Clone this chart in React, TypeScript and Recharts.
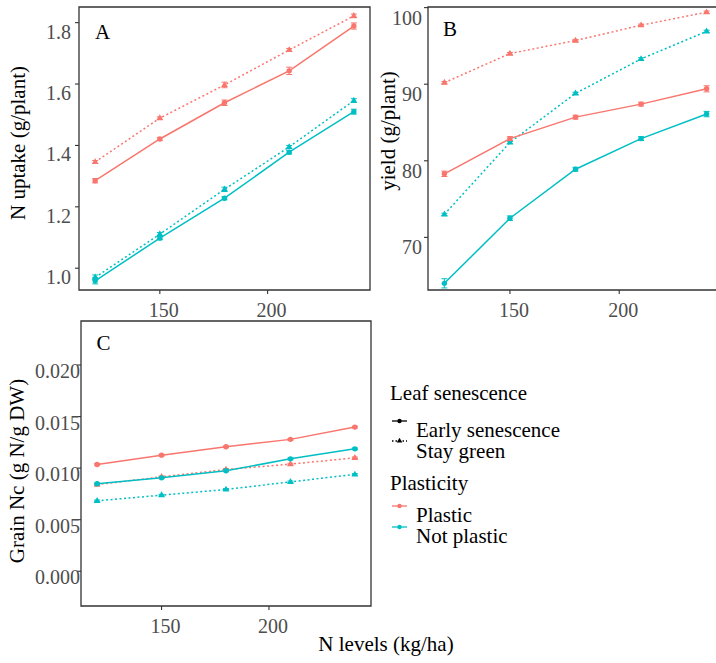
import React from 'react';
import { LineChart, Line, XAxis, YAxis, ErrorBar, ReferenceArea } from 'recharts';

const RED = '#F8766D';
const CYAN = '#00BFC4';
const FONT = "'Liberation Serif', 'DejaVu Serif', serif";
const TICK_COLOR = '#4D4D4D';
const BORDER = '#333333';

// x categories (N levels, kg/ha)
const nLevels = [120, 150, 180, 210, 240];
const xTicks = [150, 200];

// Panel A: N uptake (g/plant)
const uptakePlasticEarly = [1.285, 1.421, 1.539, 1.643, 1.789];
const uptakePlasticStay = [1.346, 1.489, 1.597, 1.711, 1.822];
const uptakeNotPlasticEarly = [0.959, 1.098, 1.228, 1.378, 1.51];
const uptakeNotPlasticStay = [0.97, 1.111, 1.257, 1.395, 1.546];
const uptakeErrPlasticEarly = [0.007, 0.005, 0.009, 0.012, 0.01];
const uptakeErrPlasticStay = [0.005, 0.004, 0.009, 0.005, 0.006];
const uptakeErrNotPlasticEarly = [0.01, 0.005, 0.005, 0.006, 0.008];
const uptakeErrNotPlasticStay = [0.008, 0.005, 0.007, 0.005, 0.006];
const uptakeTicks = [1.0, 1.2, 1.4, 1.6, 1.8];

// Panel B: yield (g/plant)
const yieldPlasticEarly = [78.3, 82.9, 85.7, 87.4, 89.4];
const yieldPlasticStay = [90.2, 94.0, 95.7, 97.7, 99.4];
const yieldNotPlasticEarly = [64.0, 72.5, 78.9, 82.9, 86.1];
const yieldNotPlasticStay = [73.0, 82.4, 88.8, 93.3, 96.9];
const yieldErrPlasticEarly = [0.35, 0.25, 0.25, 0.25, 0.4];
const yieldErrPlasticStay = [0.15, 0.15, 0.15, 0.15, 0.15];
const yieldErrNotPlasticEarly = [0.6, 0.3, 0.25, 0.25, 0.35];
const yieldErrNotPlasticStay = [0.15, 0.15, 0.15, 0.15, 0.15];
const yieldTicks = [70, 80, 90, 100];

// Panel C: Grain Nc (g N/g DW)
const ncPlasticEarly = [0.01036, 0.01126, 0.01207, 0.01279, 0.01398];
const ncPlasticStay = [0.0084, 0.00916, 0.00987, 0.01039, 0.011];
const ncNotPlasticEarly = [0.00848, 0.00906, 0.00974, 0.0109, 0.01187];
const ncNotPlasticStay = [0.00683, 0.00738, 0.00793, 0.00867, 0.00939];
const ncErr = [0.00008, 0.00008, 0.00008, 0.00008, 0.00008];
const ncTicks = [0.0, 0.005, 0.01, 0.015, 0.02];

const X_DOMAIN: [number, number] = [112.5, 247.5];

function buildRows(pe: number[], ps: number[], ne: number[], ns: number[],
  peE: number[], psE: number[], neE: number[], nsE: number[]) {
  return nLevels.map((n, i) => ({
    n,
    pe: pe[i], ps: ps[i], ne: ne[i], ns: ns[i],
    peE: peE[i], psE: psE[i], neE: neE[i], nsE: nsE[i],
  }));
}

const dataA = buildRows(uptakePlasticEarly, uptakePlasticStay, uptakeNotPlasticEarly, uptakeNotPlasticStay,
  uptakeErrPlasticEarly, uptakeErrPlasticStay, uptakeErrNotPlasticEarly, uptakeErrNotPlasticStay);
const dataB = buildRows(yieldPlasticEarly, yieldPlasticStay, yieldNotPlasticEarly, yieldNotPlasticStay,
  yieldErrPlasticEarly, yieldErrPlasticStay, yieldErrNotPlasticEarly, yieldErrNotPlasticStay);
const dataC = buildRows(ncPlasticEarly, ncPlasticStay, ncNotPlasticEarly, ncNotPlasticStay,
  ncErr, ncErr, ncErr, ncErr);

const circleDot = (color: string) => (props: any) => {
  const { cx, cy, index } = props;
  if (cx == null || cy == null) return <g key={`e${index}`} />;
  return <circle key={`c${index}`} cx={cx} cy={cy} r={2.7} fill={color} stroke="none" />;
};

const triangleDot = (color: string) => (props: any) => {
  const { cx, cy, index } = props;
  if (cx == null || cy == null) return <g key={`e${index}`} />;
  const d = `M${cx},${cy - 3.8} L${cx + 3.4},${cy + 2.1} L${cx - 3.4},${cy + 2.1} Z`;
  return <path key={`t${index}`} d={d} fill={color} stroke="none" />;
};

const makeYTick = (fmt: (v: number) => string, dx: number, dy: number) => (props: any) => {
  const { x, y, payload } = props;
  return (
    <text x={x + dx} y={y + dy} textAnchor="end" dominantBaseline="central"
      fill={TICK_COLOR} fontSize={20} fontFamily={FONT}>
      {fmt(payload.value)}
    </text>
  );
};

const makeXTick = (dx: number, dy: number) => (props: any) => {
  const { x, y, payload } = props;
  return (
    <text x={x + dx} y={y + dy} textAnchor="middle" dominantBaseline="central"
      fill={TICK_COLOR} fontSize={20} fontFamily={FONT}>
      {payload.value}
    </text>
  );
};

type PanelProps = {
  data: any[];
  width: number;
  height: number;
  margin: { top: number; right: number; bottom: number; left: number };
  yWidth: number;
  xHeight: number;
  yDomain: [number, number];
  yTicks: number[];
  yTick: any;
  xTick: any;
};

function Panel(p: PanelProps) {
  return (
    <LineChart width={p.width} height={p.height} data={p.data} margin={p.margin}>
      <ReferenceArea x1={X_DOMAIN[0]} x2={X_DOMAIN[1]} y1={p.yDomain[0]} y2={p.yDomain[1]}
        fill="none" stroke={BORDER} strokeWidth={1.3} ifOverflow="visible" />
      <XAxis dataKey="n" type="number" domain={X_DOMAIN} ticks={xTicks} allowDataOverflow
        height={p.xHeight} axisLine={false} tickLine={{ stroke: BORDER, strokeWidth: 1.1 }}
        tickSize={4} tickMargin={0} tick={p.xTick} interval={0} />
      <YAxis type="number" domain={p.yDomain} ticks={p.yTicks} allowDataOverflow
        width={p.yWidth} axisLine={false} tickLine={{ stroke: BORDER, strokeWidth: 1.1 }}
        tickSize={4} tickMargin={0} tick={p.yTick} interval={0} />
      <Line dataKey="ps" stroke={RED} strokeWidth={1.5} strokeDasharray="2 2.5"
        dot={triangleDot(RED)} activeDot={false} isAnimationActive={false}>
        <ErrorBar dataKey="psE" direction="y" width={3} stroke={RED} strokeWidth={1} />
      </Line>
      <Line dataKey="ns" stroke={CYAN} strokeWidth={1.5} strokeDasharray="2 2.5"
        dot={triangleDot(CYAN)} activeDot={false} isAnimationActive={false}>
        <ErrorBar dataKey="nsE" direction="y" width={3} stroke={CYAN} strokeWidth={1} />
      </Line>
      <Line dataKey="pe" stroke={RED} strokeWidth={1.5}
        dot={circleDot(RED)} activeDot={false} isAnimationActive={false}>
        <ErrorBar dataKey="peE" direction="y" width={3} stroke={RED} strokeWidth={1} />
      </Line>
      <Line dataKey="ne" stroke={CYAN} strokeWidth={1.5}
        dot={circleDot(CYAN)} activeDot={false} isAnimationActive={false}>
        <ErrorBar dataKey="neE" direction="y" width={3} stroke={CYAN} strokeWidth={1} />
      </Line>
    </LineChart>
  );
}

function T(props: any) {
  const { children, ...rest } = props;
  return (
    <text fontFamily={FONT} fontSize={21} fill="#000" dominantBaseline="central" {...rest}>
      {children}
    </text>
  );
}

function Overlay() {
  return (
    <svg width={716} height={663} style={{ position: 'absolute', left: 0, top: 0, pointerEvents: 'none' }}>
      {/* panel letters */}
      <T x={95} y={32}>A</T>
      <T x={443} y={29}>B</T>
      <T x={96.5} y={343}>C</T>

      {/* axis titles */}
      <T transform="translate(18,143) rotate(-90)" textAnchor="middle">N uptake (g/plant)</T>
      <T transform="translate(388,131) rotate(-90)" textAnchor="middle">yield (g/plant)</T>
      <T transform="translate(17,471) rotate(-90)" textAnchor="middle">Grain Nc (g N/g DW)</T>
      <T x={386} y={644} textAnchor="middle">N levels (kg/ha)</T>

      {/* legend: Leaf senescence */}
      <T x={390} y={393}>Leaf senescence</T>
      <line x1={392} x2={407} y1={421} y2={421} stroke="#000" strokeWidth={1.3} />
      <circle cx={399.5} cy={421} r={2.2} fill="#000" />
      <T x={416} y={430}>Early senescence</T>
      <line x1={392} x2={407} y1={441} y2={441} stroke="#000" strokeWidth={1.3} strokeDasharray="1.5 2" />
      <path d="M399.5,437.8 L402.3,442.6 L396.7,442.6 Z" fill="#000" />
      <T x={416} y={451}>Stay green</T>

      {/* legend: Plasticity */}
      <T x={390} y={483}>Plasticity</T>
      <line x1={392} x2={407} y1={506} y2={506} stroke={RED} strokeWidth={1.3} />
      <circle cx={399.5} cy={506} r={2.2} fill={RED} />
      <T x={416} y={515}>Plastic</T>
      <line x1={392} x2={407} y1={527} y2={527} stroke={CYAN} strokeWidth={1.3} />
      <circle cx={399.5} cy={527} r={2.2} fill={CYAN} />
      <T x={416} y={536}>Not plastic</T>
    </svg>
  );
}

export default function App() {
  return (
    <div style={{ position: 'absolute', left: 0, top: 0, width: 716, height: 663, overflow: 'hidden', background: '#fff' }}>
      <div style={{ position: 'absolute', left: 0, top: 0 }}>
        <Panel data={dataA} width={380} height={320}
          margin={{ top: 7, right: 10, bottom: 0, left: 0 }} yWidth={79} xHeight={30}
          yDomain={[0.929, 1.851]} yTicks={uptakeTicks}
          yTick={makeYTick((v) => v.toFixed(1), -4, 9)} xTick={makeXTick(4, 16)} />
      </div>
      <div style={{ position: 'absolute', left: 340, top: 0 }}>
        <Panel data={dataB} width={390} height={320}
          margin={{ top: 7, right: 7, bottom: 0, left: 0 }} yWidth={88} xHeight={30}
          yDomain={[63.13, 100.08]} yTicks={yieldTicks}
          yTick={makeYTick((v) => String(v), -2, 10)} xTick={makeXTick(4, 16)} />
      </div>
      <div style={{ position: 'absolute', left: 0, top: 310 }}>
        <Panel data={dataC} width={380} height={330}
          margin={{ top: 11, right: 9, bottom: 0, left: 0 }} yWidth={81} xHeight={34}
          yDomain={[-0.00337, 0.02427]} yTicks={ncTicks}
          yTick={makeYTick((v) => v.toFixed(3), 3, 6)} xTick={makeXTick(4, 16)} />
      </div>
      <Overlay />
    </div>
  );
}
